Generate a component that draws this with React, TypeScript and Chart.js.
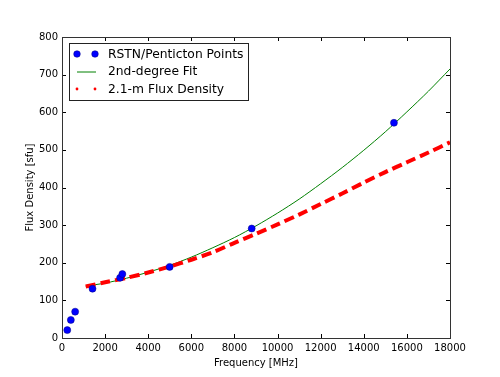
import React, { useEffect, useRef } from "react";
import { Chart, registerables } from "chart.js";

Chart.register(...registerables);

// RSTN / Penticton measured points (MHz, sfu)
const pointFreqs = [245, 410, 610, 1415, 2695, 2800, 4995, 8800, 15400];
const pointFlux = [21, 48, 70, 131, 160, 170, 189, 291, 572];

// 2nd-degree fit curve
const fitFreqs = [1100, 2000, 3000, 4000, 5000, 6000, 7000, 8000, 9000, 10000, 11000, 12000, 13000, 14000, 15000, 16000, 17000, 18000];
const fitFlux = [138, 146, 159, 175, 193, 215, 240, 267, 298, 332, 369, 410, 453, 499, 548, 601, 656, 715];

// 2.1-m flux density curve
const densFreqs = [1100, 2000, 3000, 4000, 5000, 6000, 7000, 8000, 9000, 10000, 11000, 12000, 13000, 14000, 15000, 16000, 17000, 18000];
const densFlux = [137, 148, 160, 174, 190, 208, 228, 253, 277, 302, 328, 356, 384, 413, 441, 467, 493, 520];

const xTicks = [0, 2000, 4000, 6000, 8000, 10000, 12000, 14000, 16000, 18000];
const yTicks = [0, 100, 200, 300, 400, 500, 600, 700, 800];

const legendLabels = ["RSTN/Penticton Points", "2nd-degree Fit", "2.1-m Flux Density"];

const FONT = "'DejaVu Sans', sans-serif";

const framePlugin = {
  id: "frameTicks",
  afterDatasetsDraw(chart: any) {
    const { ctx, chartArea: a, scales } = chart;
    const xs = scales.x, ys = scales.y;
    ctx.save();
    ctx.strokeStyle = "#000";
    ctx.lineWidth = 1;
    ctx.beginPath();
    for (const v of xTicks) {
      const px = Math.round(xs.getPixelForValue(v)) + 0.5;
      ctx.moveTo(px, a.bottom); ctx.lineTo(px, a.bottom - 4);
      ctx.moveTo(px, a.top); ctx.lineTo(px, a.top + 4);
    }
    for (const v of yTicks) {
      const py = Math.round(ys.getPixelForValue(v)) + 0.5;
      ctx.moveTo(a.left, py); ctx.lineTo(a.left + 4, py);
      ctx.moveTo(a.right, py); ctx.lineTo(a.right - 4, py);
    }
    ctx.stroke();
    ctx.strokeStyle = "#333";
    ctx.strokeRect(Math.round(a.left) + 0.5, Math.round(a.top) + 0.5, Math.round(a.right - a.left), Math.round(a.bottom - a.top));

    // legend
    const bx = 69.5, by = 43.5, bw = 179, bh = 57;
    ctx.fillStyle = "#fff";
    ctx.fillRect(bx, by, bw, bh);
    ctx.strokeStyle = "#222";
    ctx.strokeRect(bx, by, bw, bh);
    const rows = [54, 71.5, 89];
    ctx.font = `12.3px ${FONT}`;
    ctx.fillStyle = "#000";
    ctx.textBaseline = "middle";
    ctx.textAlign = "left";
    legendLabels.forEach((t, i) => ctx.fillText(t, 108, rows[i] + 0.5));
    // markers
    for (const mx of [77, 95]) {
      ctx.beginPath();
      ctx.fillStyle = "#0000ff";
      ctx.strokeStyle = "#000080";
      ctx.lineWidth = 0.5;
      ctx.arc(mx, rows[0], 3.3, 0, Math.PI * 2);
      ctx.fill(); ctx.stroke();
    }
    ctx.strokeStyle = "#008000";
    ctx.lineWidth = 1;
    ctx.beginPath();
    ctx.moveTo(77, rows[1] + 0.5); ctx.lineTo(96, rows[1] + 0.5);
    ctx.stroke();
    ctx.fillStyle = "#ff0000";
    for (const mx of [77, 95]) {
      ctx.beginPath();
      ctx.arc(mx, rows[2], 1.4, 0, Math.PI * 2);
      ctx.fill();
    }
    ctx.restore();
  },
};

export default function App() {
  const ref = useRef<HTMLCanvasElement>(null);
  useEffect(() => {
    if (!ref.current) return;
    const chart = new Chart(ref.current, {
      type: "scatter",
      data: {
        datasets: [
          {
            label: legendLabels[2],
            data: densFreqs.map((x, i) => ({ x, y: densFlux[i] })),
            showLine: true,
            borderColor: "#ff0000",
            borderWidth: 4,
            borderDash: [10, 5],
            pointRadius: 0,
            tension: 0.3,
            order: 1,
          },
          {
            label: legendLabels[1],
            data: fitFreqs.map((x, i) => ({ x, y: fitFlux[i] })),
            showLine: true,
            borderColor: "#008000",
            borderWidth: 1,
            pointRadius: 0,
            tension: 0.3,
            order: 2,
          },
          {
            label: legendLabels[0],
            data: pointFreqs.map((x, i) => ({ x, y: pointFlux[i] })),
            showLine: false,
            backgroundColor: "#0000ff",
            borderColor: "#000080",
            borderWidth: 0.5,
            pointRadius: 3.5,
            order: 0,
          },
        ],
      },
      options: {
        animation: false,
        responsive: false,
        devicePixelRatio: 1,
        layout: { padding: { left: 0, right: 50, top: 37, bottom: 0 } },
        plugins: { legend: { display: false }, tooltip: { enabled: false } },
        scales: {
          x: {
            type: "linear",
            min: 0,
            max: 18000,
            afterBuildTicks: (s: any) => { s.ticks = xTicks.map((v) => ({ value: v })); },
            afterFit: (s: any) => { s.height = 39; },
            grid: { display: false, drawTicks: false },
            border: { display: false },
            ticks: { color: "#000", font: { family: FONT, size: 10 }, padding: 4, maxRotation: 0, autoSkip: false, callback: (v: any) => String(v) },
            title: { display: true, text: "Frequency [MHz]", color: "#000", font: { family: FONT, size: 10 }, padding: { top: 0, bottom: 8 } },
          },
          y: {
            type: "linear",
            min: 0,
            max: 800,
            afterBuildTicks: (s: any) => { s.ticks = yTicks.map((v) => ({ value: v })); },
            afterFit: (s: any) => { s.width = 62; },
            grid: { display: false, drawTicks: false },
            border: { display: false },
            ticks: { color: "#000", font: { family: FONT, size: 10 }, padding: 4, autoSkip: false, callback: (v: any) => String(v) },
            title: { display: true, text: "Flux Density [sfu]", color: "#000", font: { family: FONT, size: 10 }, padding: { top: 24, bottom: 0 } },
          },
        },
      },
      plugins: [framePlugin],
    });
    return () => chart.destroy();
  }, []);
  return (
    <div style={{ position: "fixed", left: 0, top: 0, width: 500, height: 377, background: "#fff" }}>
      <canvas ref={ref} width={500} height={377} style={{ width: 500, height: 377 }} />
    </div>
  );
}
